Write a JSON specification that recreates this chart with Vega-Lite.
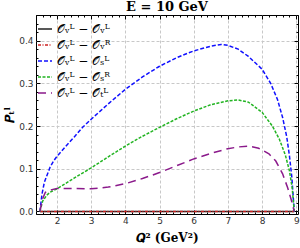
{
  "$schema": "https://vega.github.io/schema/vega-lite/v6.json",
  "width": 262,
  "height": 199,
  "autosize": {"type": "none"},
  "padding": {"left": 36, "top": 15, "right": 2, "bottom": 34},
  "background": "white",
  "title": {"text": "E = 10 GeV", "font": "DejaVu Serif", "fontSize": 13, "fontWeight": "bold", "color": "#000", "offset": -3, "anchor": "middle"},
  "config": {"view": {"stroke": "#000", "strokeWidth": 1}},
  "data": {"values": [
    {"s": "a", "Q": 1.5, "P": 0}, {"s": "a", "Q": 8.94, "P": 0},
    {"s": "b", "Q": 1.5, "P": 0}, {"s": "b", "Q": 8.94, "P": 0},
    {"s": "c", "Q": 1.5, "P": 0}, {"s": "c", "Q": 1.56, "P": 0.04}, {"s": "c", "Q": 1.63, "P": 0.068}, {"s": "c", "Q": 1.7, "P": 0.083},
    {"s": "c", "Q": 1.8, "P": 0.104}, {"s": "c", "Q": 1.9, "P": 0.118}, {"s": "c", "Q": 2.0, "P": 0.129}, {"s": "c", "Q": 2.25, "P": 0.152},
    {"s": "c", "Q": 2.5, "P": 0.174}, {"s": "c", "Q": 2.75, "P": 0.197}, {"s": "c", "Q": 3.0, "P": 0.216}, {"s": "c", "Q": 3.5, "P": 0.252},
    {"s": "c", "Q": 4.0, "P": 0.286}, {"s": "c", "Q": 4.5, "P": 0.315}, {"s": "c", "Q": 5.0, "P": 0.34}, {"s": "c", "Q": 5.5, "P": 0.36},
    {"s": "c", "Q": 6.0, "P": 0.376}, {"s": "c", "Q": 6.5, "P": 0.387}, {"s": "c", "Q": 6.8, "P": 0.391}, {"s": "c", "Q": 7.0, "P": 0.389},
    {"s": "c", "Q": 7.3, "P": 0.38}, {"s": "c", "Q": 7.6, "P": 0.363}, {"s": "c", "Q": 8.0, "P": 0.333}, {"s": "c", "Q": 8.25, "P": 0.3},
    {"s": "c", "Q": 8.45, "P": 0.262}, {"s": "c", "Q": 8.6, "P": 0.22}, {"s": "c", "Q": 8.72, "P": 0.175}, {"s": "c", "Q": 8.8, "P": 0.13},
    {"s": "c", "Q": 8.87, "P": 0.08}, {"s": "c", "Q": 8.94, "P": 0},
    {"s": "d", "Q": 1.5, "P": 0}, {"s": "d", "Q": 1.58, "P": 0.024}, {"s": "d", "Q": 1.7, "P": 0.038}, {"s": "d", "Q": 1.8, "P": 0.045},
    {"s": "d", "Q": 2.0, "P": 0.053}, {"s": "d", "Q": 2.5, "P": 0.078}, {"s": "d", "Q": 3.0, "P": 0.102}, {"s": "d", "Q": 3.5, "P": 0.128},
    {"s": "d", "Q": 4.0, "P": 0.153}, {"s": "d", "Q": 4.5, "P": 0.176}, {"s": "d", "Q": 5.0, "P": 0.197}, {"s": "d", "Q": 5.5, "P": 0.217},
    {"s": "d", "Q": 6.0, "P": 0.235}, {"s": "d", "Q": 6.5, "P": 0.25}, {"s": "d", "Q": 7.0, "P": 0.259}, {"s": "d", "Q": 7.3, "P": 0.261},
    {"s": "d", "Q": 7.6, "P": 0.256}, {"s": "d", "Q": 8.0, "P": 0.232}, {"s": "d", "Q": 8.3, "P": 0.2}, {"s": "d", "Q": 8.5, "P": 0.17},
    {"s": "d", "Q": 8.68, "P": 0.132}, {"s": "d", "Q": 8.8, "P": 0.095}, {"s": "d", "Q": 8.88, "P": 0.055}, {"s": "d", "Q": 8.94, "P": 0},
    {"s": "e", "Q": 1.5, "P": 0}, {"s": "e", "Q": 1.58, "P": 0.03}, {"s": "e", "Q": 1.66, "P": 0.045}, {"s": "e", "Q": 1.8, "P": 0.05},
    {"s": "e", "Q": 2.0, "P": 0.054}, {"s": "e", "Q": 2.5, "P": 0.054}, {"s": "e", "Q": 3.0, "P": 0.053}, {"s": "e", "Q": 3.5, "P": 0.057},
    {"s": "e", "Q": 4.0, "P": 0.065}, {"s": "e", "Q": 4.5, "P": 0.077}, {"s": "e", "Q": 5.0, "P": 0.091}, {"s": "e", "Q": 5.5, "P": 0.107},
    {"s": "e", "Q": 6.0, "P": 0.123}, {"s": "e", "Q": 6.5, "P": 0.136}, {"s": "e", "Q": 7.0, "P": 0.147}, {"s": "e", "Q": 7.3, "P": 0.151},
    {"s": "e", "Q": 7.6, "P": 0.153}, {"s": "e", "Q": 7.9, "P": 0.148}, {"s": "e", "Q": 8.2, "P": 0.135}, {"s": "e", "Q": 8.4, "P": 0.118},
    {"s": "e", "Q": 8.6, "P": 0.088}, {"s": "e", "Q": 8.75, "P": 0.055}, {"s": "e", "Q": 8.85, "P": 0.028}, {"s": "e", "Q": 8.94, "P": 0}
  ]},
  "transform": [
    {"lookup": "s", "from": {"data": {"values": [
      {"s": "a", "name": "𝒪ᵥᴸ − 𝒪ᵥᴸ"},
      {"s": "b", "name": "𝒪ᵥᴸ − 𝒪ᵥᴿ"},
      {"s": "c", "name": "𝒪ᵥᴸ − 𝒪ₛᴸ"},
      {"s": "d", "name": "𝒪ᵥᴸ − 𝒪ₛᴿ"},
      {"s": "e", "name": "𝒪ᵥᴸ − 𝒪ₜᴸ"}
    ]}, "key": "s", "fields": ["name"]}}
  ],
  "resolve": {"axis": {"x": "independent", "y": "independent"}},
  "layer": [
    {
      "mark": {"type": "line", "clip": true},
      "encoding": {
        "x": {"field": "Q", "type": "quantitative",
          "scale": {"domain": [1.386, 9.05], "nice": false, "zero": false},
          "axis": {"orient": "bottom", "title": "𝑸² (GeV²)", "titleFont": "DejaVu Serif", "titleFontWeight": "bold", "titleFontSize": 12, "titleColor": "#000", "titlePadding": 5,
            "values": [1.4,1.6,1.8,2,2.2,2.4,2.6,2.8,3,3.2,3.4,3.6,3.8,4,4.2,4.4,4.6,4.8,5,5.2,5.4,5.6,5.8,6,6.2,6.4,6.6,6.8,7,7.2,7.4,7.6,7.8,8,8.2,8.4,8.6,8.8,9],
            "labelExpr": "abs(datum.value - round(datum.value)) < 0.001 ? format(datum.value, 'd') : ''",
            "domain": false, "grid": true, "gridDash": [3, 2], "gridColor": "#c8c8c8",
            "gridOpacity": {"condition": {"test": "abs(datum.value - round(datum.value)) < 0.001", "value": 1}, "value": 0},
            "tickColor": "#000", "tickSize": {"condition": {"test": "abs(datum.value - round(datum.value)) < 0.001", "value": -4}, "value": -2},
            "labelFont": "DejaVu Sans", "labelFontSize": 9, "labelColor": "#333", "labelPadding": 6, "labelFlush": false, "labelOverlap": false}},
        "y": {"field": "P", "type": "quantitative",
          "scale": {"domain": [-0.006, 0.46], "nice": false, "zero": false},
          "axis": {"orient": "left", "title": "𝑷ₜˡ", "titleFont": "DejaVu Serif", "titleFontWeight": "bold", "titleFontSize": 12, "titleColor": "#000", "titlePadding": 2,
            "values": [0,0.02,0.04,0.06,0.08,0.1,0.12,0.14,0.16,0.18,0.2,0.22,0.24,0.26,0.28,0.3,0.32,0.34,0.36,0.38,0.4,0.42,0.44,0.46],
            "labelExpr": "abs(datum.value*10 - round(datum.value*10)) < 0.001 ? format(datum.value, '.1f') : ''",
            "domain": false, "grid": true, "gridDash": [3, 2], "gridColor": "#c8c8c8",
            "gridOpacity": {"condition": {"test": "abs(datum.value*10 - round(datum.value*10)) < 0.001", "value": 1}, "value": 0},
            "tickColor": "#000", "tickSize": {"condition": {"test": "abs(datum.value*10 - round(datum.value*10)) < 0.001", "value": -4}, "value": -2},
            "labelFont": "DejaVu Sans", "labelFontSize": 9, "labelColor": "#333", "labelPadding": 7, "labelFlush": false, "labelOverlap": false}},
        "color": {"field": "name", "type": "nominal",
          "scale": {"domain": ["𝒪ᵥᴸ − 𝒪ᵥᴸ", "𝒪ᵥᴸ − 𝒪ᵥᴿ", "𝒪ᵥᴸ − 𝒪ₛᴸ", "𝒪ᵥᴸ − 𝒪ₛᴿ", "𝒪ᵥᴸ − 𝒪ₜᴸ"], "range": ["#222222", "#cc2020", "#1010ff", "#22b422", "#8b1a8b"]},
          "legend": {"orient": "none", "legendX": 1, "legendY": 6, "title": null, "padding": 0, "symbolType": "stroke", "symbolSize": 196, "symbolStrokeWidth": 1.6, "labelFont": "DejaVu Serif", "labelFontSize": 12, "labelColor": "#000", "rowPadding": 2, "labelOffset": 4}},
        "strokeDash": {"field": "name", "type": "nominal",
          "scale": {"domain": ["𝒪ᵥᴸ − 𝒪ᵥᴸ", "𝒪ᵥᴸ − 𝒪ᵥᴿ", "𝒪ᵥᴸ − 𝒪ₛᴸ", "𝒪ᵥᴸ − 𝒪ₛᴿ", "𝒪ᵥᴸ − 𝒪ₜᴸ"], "range": [[1, 0], [3, 1.5, 1, 1.5], [4, 2], [3, 1.5], [8, 5]]}},
        "strokeWidth": {"field": "name", "type": "nominal",
          "scale": {"domain": ["𝒪ᵥᴸ − 𝒪ᵥᴸ", "𝒪ᵥᴸ − 𝒪ᵥᴿ", "𝒪ᵥᴸ − 𝒪ₛᴸ", "𝒪ᵥᴸ − 𝒪ₛᴿ", "𝒪ᵥᴸ − 𝒪ₜᴸ"], "range": [1.5, 1.5, 1.6, 1.6, 2]}}
      }
    },
    {
      "mark": {"type": "point", "opacity": 0},
      "encoding": {
        "x": {"field": "Q", "type": "quantitative",
          "axis": {"orient": "top", "title": null, "labels": false, "domain": false, "grid": false,
            "values": [1.4,1.6,1.8,2,2.2,2.4,2.6,2.8,3,3.2,3.4,3.6,3.8,4,4.2,4.4,4.6,4.8,5,5.2,5.4,5.6,5.8,6,6.2,6.4,6.6,6.8,7,7.2,7.4,7.6,7.8,8,8.2,8.4,8.6,8.8,9],
            "tickColor": "#000", "tickSize": {"condition": {"test": "abs(datum.value - round(datum.value)) < 0.001", "value": -4}, "value": -2}}},
        "y": {"field": "P", "type": "quantitative",
          "axis": {"orient": "right", "title": null, "labels": false, "domain": false, "grid": false,
            "values": [0,0.02,0.04,0.06,0.08,0.1,0.12,0.14,0.16,0.18,0.2,0.22,0.24,0.26,0.28,0.3,0.32,0.34,0.36,0.38,0.4,0.42,0.44,0.46],
            "tickColor": "#000", "tickSize": {"condition": {"test": "abs(datum.value*10 - round(datum.value*10)) < 0.001", "value": -4}, "value": -2}}}
      }
    }
  ]
}
